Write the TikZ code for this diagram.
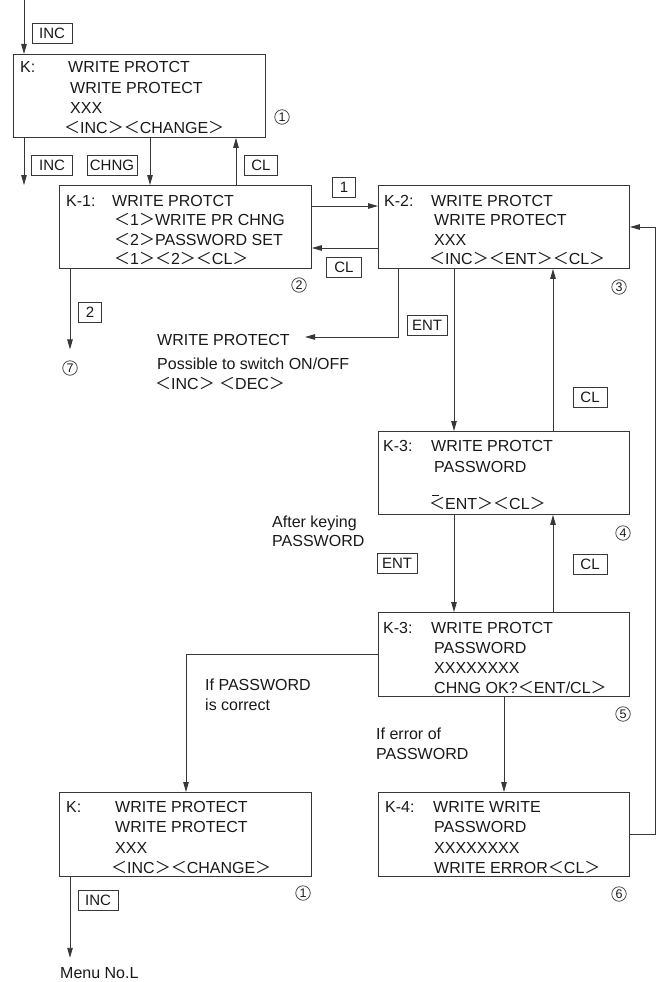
\documentclass[tikz,border=0pt]{standalone}
\usepackage{fontspec}
\setmainfont{Liberation Sans}
\newfontfamily\cjkfont{Noto Sans CJK JP}
\usetikzlibrary{arrows.meta}
\newcommand{\lbk}{{\cjkfont ＜}}
\newcommand{\rbk}{{\cjkfont ＞}}
\newcommand{\lbkbar}{{\cjkfont\rlap{\hspace{0.2em}\rule[0.8em]{0.4em}{0.05em}}＜}}
\definecolor{lc}{RGB}{55,55,55}
\definecolor{tc}{RGB}{25,25,25}
\tikzset{
  lcd/.style={draw=lc, line width=0.9pt, minimum height=83pt, anchor=north west, inner sep=0pt},
  txt/.style={anchor=base west, inner sep=0pt, text=tc, font=\fontsize{16}{19}\selectfont},
  keybox/.style={draw=lc, line width=0.9pt, text=tc, font=\fontsize{15}{18}\selectfont, minimum height=20pt, inner xsep=2pt, inner ysep=0pt},
  num/.style={circle, draw=lc, line width=0.7pt, minimum size=14.5pt, inner sep=0pt, text=tc, font=\fontsize{12.5}{12.5}\selectfont},
  arr/.style={draw=lc, line width=0.9pt, -{Triangle[length=10pt,width=5.5pt]}},
}
\begin{document}
\begin{tikzpicture}[x=1pt, y=-1pt]
\path[use as bounding box, fill=white] (0,0) rectangle (659,982);

% display boxes
\node[lcd, minimum width=252pt] (K)   at (13,54)  {};
\node[lcd, minimum width=252pt] (K1)  at (59,185) {};
\node[lcd, minimum width=251pt] (K2)  at (378,185) {};
\node[lcd, minimum width=251pt] (K3)  at (378,431) {};
\node[lcd, minimum width=251pt, minimum height=84pt] (K3b) at (378,612) {};
\node[lcd, minimum width=252pt, minimum height=84pt] (KB)  at (59,792) {};
\node[lcd, minimum width=251pt, minimum height=84pt] (K4)  at (378,792) {};

% K
\node[txt] (ka) at (20,73) {K:};
\node[txt] (kb) at (68,73) {WRITE PROTCT};
\node[txt] (kc) at (70,93) {WRITE PROTECT};
\node[txt] (kd) at (70,113) {XXX};
\node[txt] (ke) at (64,133) {\lbk INC\rbk\lbk CHANGE\rbk};
% K-1
\node[txt] (k1a) at (66,206) {K-1:};
\node[txt] (k1b) at (112,206) {WRITE PROTCT};
\node[txt] (k1c) at (114,225) {\lbk 1\rbk WRITE PR CHNG};
\node[txt] (k1d) at (114,245) {\lbk 2\rbk PASSWORD SET};
\node[txt] (k1e) at (114,264) {\lbk 1\rbk\lbk 2\rbk\lbk CL\rbk};
% K-2
\node[txt] (k2a) at (384,206) {K-2:};
\node[txt] (k2b) at (431,206) {WRITE PROTCT};
\node[txt] (k2c) at (434,225) {WRITE PROTECT};
\node[txt] (k2d) at (434,245) {XXX};
\node[txt] (k2e) at (429,264) {\lbk INC\rbk\lbk ENT\rbk\lbk CL\rbk};
% K-3
\node[txt] (k3a) at (383,451) {K-3:};
\node[txt] (k3b) at (431,451) {WRITE PROTCT};
\node[txt] (k3c) at (434,472) {PASSWORD};
\node[txt] (k3d) at (429,509) {\lbkbar ENT\rbk\lbk CL\rbk};
% K-3 second
\node[txt] (k5a) at (383,633) {K-3:};
\node[txt] (k5b) at (431,633) {WRITE PROTCT};
\node[txt] (k5c) at (434,653) {PASSWORD};
\node[txt] (k5d) at (434,673) {XXXXXXXX};
\node[txt] (k5e) at (434,693) {CHNG OK?\lbk ENT/CL\rbk};
% K bottom
\node[txt] (kba) at (66,812) {K:};
\node[txt] (kbb) at (115,812) {WRITE PROTECT};
\node[txt] (kbc) at (115,832) {WRITE PROTECT};
\node[txt] (kbd) at (115,853) {XXX};
\node[txt] (kbe) at (111,873) {\lbk INC\rbk\lbk CHANGE\rbk};
% K-4
\node[txt] (k4a) at (385,812) {K-4:};
\node[txt] (k4b) at (433,812) {WRITE WRITE};
\node[txt] (k4c) at (434,832) {PASSWORD};
\node[txt] (k4d) at (434,853) {XXXXXXXX};
\node[txt] (k4e) at (434,873) {WRITE ERROR\lbk CL\rbk};

% free texts
\node[txt] (wp)  at (157,345) {WRITE PROTECT};
\node[txt] (wp2) at (157,369) {Possible to switch ON/OFF};
\node[txt] (wp3) at (155,389) {\lbk INC\rbk\ \lbk DEC\rbk};
\node[txt] (ak1) at (272,527) {After keying};
\node[txt] (ak2) at (272,546) {PASSWORD};
\node[txt] (ok1) at (205,690) {If PASSWORD};
\node[txt] (ok2) at (205,710) {is correct};
\node[txt] (er1) at (376,739) {If error of};
\node[txt] (er2) at (376,759) {PASSWORD};
\node[txt] (menu) at (60,978) {Menu No.L};

% key boxes
\node[keybox, minimum width=40pt] (kinc1) at (52,33)  {INC};
\node[keybox, minimum width=41pt] (kinc2) at (52,165) {INC};
\node[keybox, minimum width=50pt] (kchng) at (112,165) {CHNG};
\node[keybox, minimum width=33pt] (kcl1)  at (261,165) {CL};
\node[keybox, minimum width=23pt] (kone)  at (344,187) {1};
\node[keybox, minimum width=35pt] (kcl2)  at (344,267) {CL};
\node[keybox, minimum width=23pt] (ktwo)  at (90,312) {2};
\node[keybox, minimum width=40pt] (kent1) at (427,325) {ENT};
\node[keybox, minimum width=34pt] (kcl3)  at (590,397) {CL};
\node[keybox, minimum width=40pt] (kent2) at (397,563) {ENT};
\node[keybox, minimum width=34pt] (kcl4)  at (590,564) {CL};
\node[keybox, minimum width=40pt] (kinc3) at (98,900) {INC};

% circled numbers
\node[num] (c1)  at (282,117) {1};
\node[num] (c2)  at (299,285) {2};
\node[num] (c3)  at (619,287) {3};
\node[num] (c7)  at (70,368)  {7};
\node[num] (c4)  at (623,533) {4};
\node[num] (c5)  at (623,714) {5};
\node[num] (c1b) at (303,893) {1};
\node[num] (c6)  at (619,894) {6};

% helper coordinates
\coordinate (top) at (24,0);
\coordinate (out1) at (24,185);
\coordinate (cx) at (150,0);
\coordinate (clx) at (236,0);
\coordinate (y1) at (0,206);
\coordinate (y2) at (0,248);
\coordinate (ex) at (398,0);
\coordinate (wptip) at (305,337);
\coordinate (dx) at (454,0);
\coordinate (ux) at (553,0);
\coordinate (by) at (0,654);
\coordinate (bx) at (186,0);
\coordinate (erx) at (504,0);
\coordinate (ry) at (0,834);
\coordinate (rx) at (655,0);
\coordinate (ry2) at (0,227);
\coordinate (x70) at (70,0);

% connectors
\draw[arr] (top) -- (top |- K.north);
\draw[arr] (out1 |- K.south) -- (out1);
\draw[arr] (K.south -| cx) -- (K1.north -| cx);
\draw[arr] (K1.north -| clx) -- (K.south -| clx);
\draw[arr] (K1.east |- y1) -- (K2.west |- y1);
\draw[arr] (K2.west |- y2) -- (K1.east |- y2);
\draw[arr] (K2.south -| ex) |- (wptip);
\draw[arr] (K2.south -| dx) -- (K3.north -| dx);
\draw[arr] (K3.north -| ux) -- (K2.south -| ux);
\draw[arr] (K3.south -| dx) -- (K3b.north -| dx);
\draw[arr] (K3b.north -| ux) -- (K3.south -| ux);
\draw[arr] (K3b.west |- by) -| (KB.north -| bx);
\draw[arr] (K3b.south -| erx) -- (K4.north -| erx);
\draw[arr] (K4.east |- ry) -| (rx |- ry2) -- (K2.east |- ry2);
\draw[arr, shorten >=11pt] (K1.south -| x70) -- (c7.north);
\draw[arr, shorten >=9pt] (KB.south -| x70) -- (menu.north -| x70);
\end{tikzpicture}
\end{document}
